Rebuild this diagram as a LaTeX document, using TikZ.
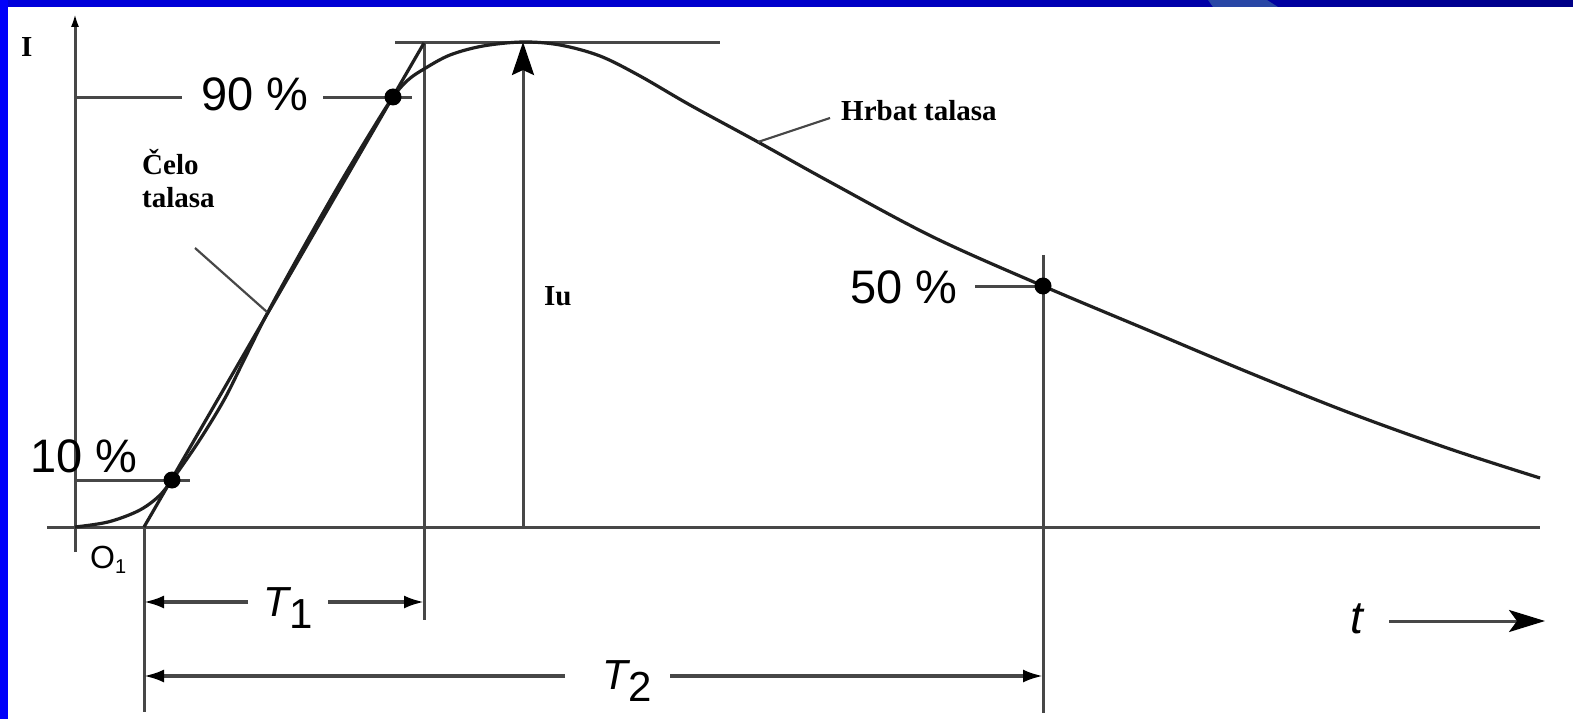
\documentclass[tikz,border=0pt]{standalone}
\usepackage{fontspec}
\setmainfont{Liberation Serif}
\setsansfont{Liberation Sans}
\usetikzlibrary{arrows.meta}

\definecolor{sideblue}{RGB}{0,0,250}
\definecolor{streak}{RGB}{40,70,165}
\pgfdeclarehorizontalshading{topband}{100bp}{rgb(0bp)=(0,0,0.92); rgb(50bp)=(0,0,0.80); rgb(73bp)=(0,0,0.55); rgb(100bp)=(0.02,0,0.25)}

\tikzset{
  axis/.style={line width=3pt, draw=black!72},
  wave/.style={line width=3.2pt, draw=black!88, line join=round},
  dot/.style={circle, fill=black, inner sep=0pt, minimum size=17pt},
  pct/.style={font=\fontsize{47}{47}\selectfont\sffamily, inner sep=0pt},
  lbl/.style={font=\fontsize{29}{33}\selectfont\bfseries, inner sep=0pt, align=left},
  dimtip/.style={-{Latex[length=20pt,width=13pt,color=black]}},
}
\newcommand{\Tlab}[1]{{\itshape T}\raisebox{-12pt}{#1}}

\begin{document}
\begin{tikzpicture}[x=1pt,y=-1pt]
\useasboundingbox (0,0) rectangle (1573,719);
% frame
\fill[white] (0,0) rectangle (1573,719);
\shade[shading=topband] (0,0) rectangle (1573,7);
\fill[streak] (1208,0) -- (1267,0) -- (1278,7) -- (1213,7) -- cycle;
\fill[sideblue] (0,0) rectangle (8,719);

\coordinate (O) at (75,527);
\coordinate (O1) at (144,527);
\coordinate (F) at (424,43);
\coordinate (M) at (523,42);
\coordinate (P10) at (172,480);
\coordinate (P90) at (393,97);
\coordinate (P50) at (1043,286);

% axes
\coordinate (Ibot) at (75,552);
\coordinate (Itop) at (75,13);
\coordinate (Xl) at (47,527);
\coordinate (Xr) at (1540,527);
\draw[axis,-{Latex[length=14pt,width=8pt,color=black]}] (Ibot) -- (Itop);
\draw[axis] (Xl) -- (Xr);

% guide lines
\draw[axis] (395,43) -- (720,43);
\draw[axis] (F) -- (424,620);
\draw[axis] (O1) -- (144,712);
\draw[axis] (1043,255) -- (1043,713);
\draw[axis,-{Stealth[length=33pt,width=22pt,inset=5pt,color=black]}] (523,527) -- (M);

% wave
\draw[wave] (O1) -- (F);
\draw[wave] plot[smooth,tension=0.55] coordinates {(O) (108,522) (138,511) (158,497) (P10)
  (199,441) (224,400) (244,360) (268,312) (302,250) (339,185) (372,130) (P90)
  (408,80) (424,69) (450,55) (483,46) (M) (560,45) (600,56) (640,76) (690,105)
  (758,142) (830,182) (933,237) (P50) (1150,331) (1250,373) (1350,413) (1450,449) (1540,478)};

% levels
\node[pct,anchor=base west] (l90) at (201,111) {90 \%};
\node[pct,anchor=base west] (l10) at (30,472) {10 \%};
\node[pct,anchor=base west] (l50) at (850,303) {50 \%};
\draw[axis] (75,98) -- (182,98);
\draw[axis] (323,98) -- (412,98);
\draw[axis] (75,480) -- (190,480);
\draw[axis] (975,286) -- (P50);
\node[dot] at (P10) {};
\node[dot] at (P90) {};
\node[dot] at (P50) {};

% labels
\node[lbl,anchor=base west] (lI) at (21,57) {I};
\node[lbl,anchor=base west] (lIu) at (544,305) {Iu};
\node[lbl,anchor=base west] (celo) at (142,208) {Čelo\\talasa};
\node[lbl,anchor=base west] (hrbat) at (841,121) {Hrbat talasa};
\draw[axis,line width=2.2pt] (195,248) -- (267,312);
\draw[axis,line width=2.2pt] (830,118) -- (758,142);
\node[font=\fontsize{32}{32}\selectfont\sffamily,anchor=base west,inner sep=0pt] (o1) at (90,568) {O\raisebox{-5pt}{\fontsize{20}{20}\selectfont 1}};

% time marks
\node[font=\fontsize{42}{42}\selectfont\sffamily,anchor=base,inner sep=0pt] (t1) at (288,616) {\Tlab{1}};
\node[font=\fontsize{42}{42}\selectfont\sffamily,anchor=base,inner sep=0pt] (t2) at (627,689) {\Tlab{2}};
\draw[axis,line width=3.2pt,dimtip] (248,602) -- (144,602);
\draw[axis,line width=3.2pt,dimtip] (328,602) -- (424,602);
\draw[axis,line width=3.2pt,dimtip] (565,676) -- (144,676);
\draw[axis,line width=3.2pt,dimtip] (670,676) -- (1043,676);
\node[font=\fontsize{46}{46}\selectfont\sffamily\itshape,anchor=base,inner sep=0pt] (tt) at (1357,633) {t};
\draw[axis,-{Stealth[length=36pt,width=22pt,inset=8pt,color=black]}] (1389,621) -- (1545,621);
\end{tikzpicture}
\end{document}
